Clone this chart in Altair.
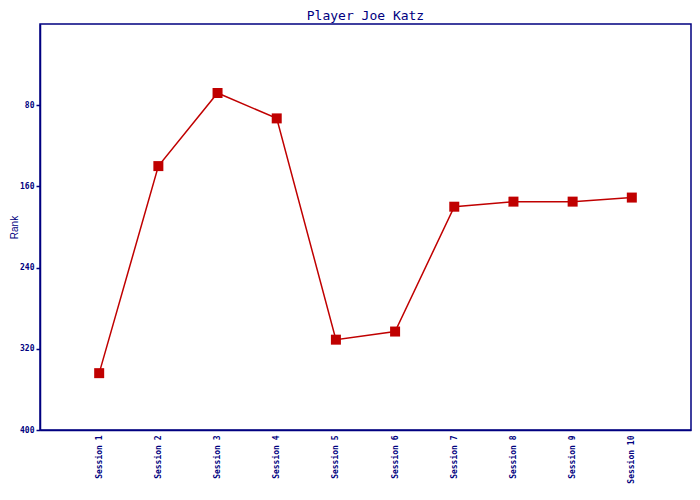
import altair as alt
import pandas as pd

sessions = ["Session 1", "Session 2", "Session 3", "Session 4", "Session 5",
            "Session 6", "Session 7", "Session 8", "Session 9", "Session 10"]
ranks = [344, 140, 68, 93, 311, 303, 180, 175, 175, 171]
y_ticks = [80, 160, 240, 320, 400]

df = pd.DataFrame({"session": sessions, "rank": ranks})

navy = "#000080"
red = "#C00000"
mono = "DejaVu Sans Mono"

x = alt.X("session:N", sort=sessions, title=None,
          scale=alt.Scale(type="point", padding=1),
          axis=alt.Axis(labelAngle=-90, labelFont=mono, labelFontSize=8,
                        labelColor=navy, labelFontWeight="bold", ticks=False,
                        domainColor=navy, domainWidth=1.5, labelPadding=5))
y = alt.Y("rank:Q", title="Rank",
          scale=alt.Scale(domain=[0, 400], reverse=True, nice=False),
          axis=alt.Axis(values=y_ticks, grid=False, labelFont=mono,
                        labelFontSize=8, labelColor=navy, labelFontWeight="bold",
                        tickColor=navy, tickSize=4, tickWidth=1.5,
                        domainColor=navy, domainWidth=1.5,
                        titleFont="Liberation Sans", titleFontSize=10,
                        titleFontWeight="normal", titleColor=navy,
                        titlePadding=0, labelPadding=2))

line = alt.Chart(df).mark_line(color=red, strokeWidth=1.5).encode(x=x, y=y)
pts = alt.Chart(df).mark_square(color=red, size=100, opacity=1).encode(x=x, y=y)

chart = (line + pts).properties(
    width=651, height=406,
    autosize=alt.AutoSizeParams(type="none"),
    padding={"left": 32, "top": 16, "right": 1, "bottom": 55},
    title=alt.TitleParams("Player Joe Katz", font=mono, fontSize=13,
                          fontWeight="normal", color=navy, offset=1),
    background="white",
).configure_view(stroke=navy, strokeWidth=1.5)

chart.save("out.html", embed_options={"renderer": "svg", "actions": False})
